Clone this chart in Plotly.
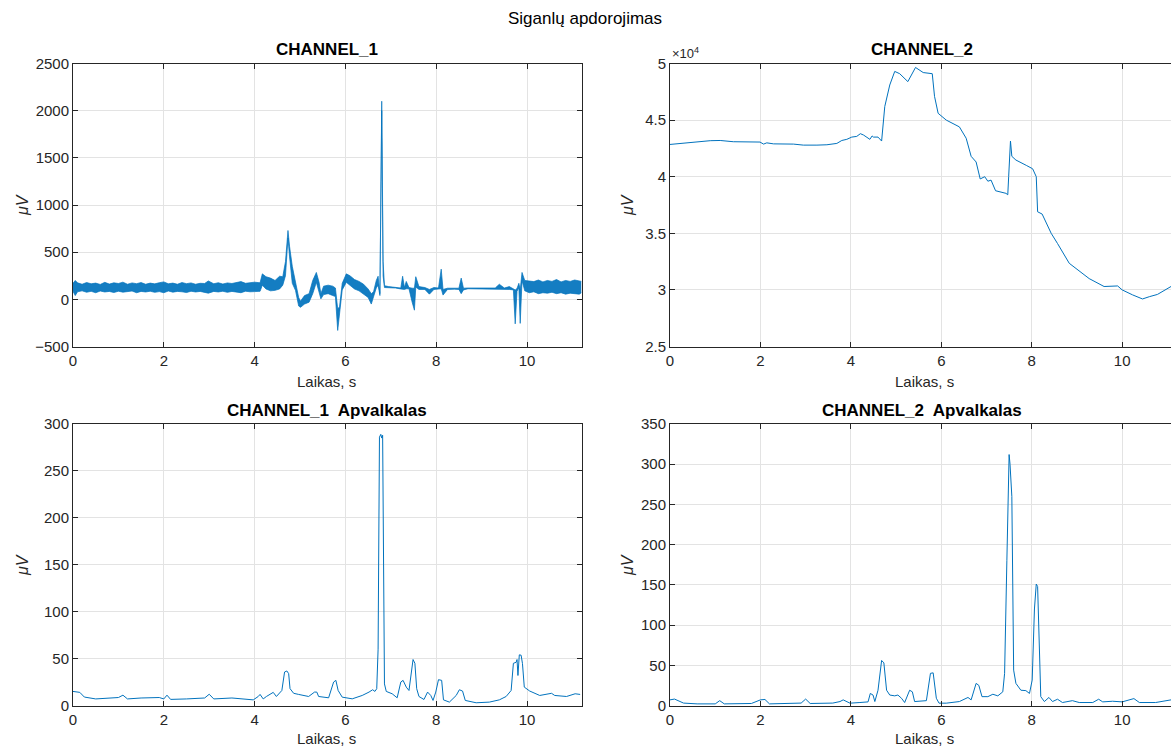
import plotly.graph_objects as go

# ---------------- data ----------------
# CHANNEL_1 raw signal: noisy band given as upper / lower envelope
ch1_t = [0.00, 0.05, 0.10, 0.20, 0.30, 0.40, 0.50, 0.60, 0.70, 0.80, 0.90, 1.00, 1.10, 1.20,
         1.30, 1.40, 1.50, 1.60, 1.70, 1.80, 1.90, 2.00, 2.10, 2.20, 2.30, 2.40, 2.50, 2.60,
         2.70, 2.80, 2.90, 2.98, 3.10, 3.20, 3.30, 3.40, 3.50, 3.60, 3.70, 3.80, 3.90, 4.00,
         4.12, 4.17, 4.25, 4.35, 4.45, 4.55, 4.62, 4.68, 4.735, 4.77, 4.83, 4.90, 4.97,
         5.01, 5.10, 5.20, 5.28, 5.36, 5.42, 5.46, 5.52, 5.62, 5.72, 5.78, 5.83, 5.87, 5.93,
         6.02, 6.10, 6.20, 6.30, 6.40, 6.50, 6.57, 6.62, 6.68, 6.72, 6.76, 6.80, 6.83, 6.86,
         6.95, 7.10, 7.22, 7.26, 7.30, 7.34, 7.40, 7.47, 7.52, 7.55, 7.62, 7.75, 7.85, 7.95,
         8.05, 8.11, 8.15, 8.25, 8.40, 8.50, 8.55, 8.60, 8.70, 8.90, 9.10, 9.30, 9.39, 9.50,
         9.61, 9.70, 9.74, 9.78, 9.82, 9.85, 9.89, 9.95, 10.05, 10.15, 10.25, 10.35, 10.45,
         10.55, 10.65, 10.75, 10.85, 10.95, 11.05, 11.15, 11.20]
ch1_hi = [170, 200, 175, 160, 178, 165, 172, 158, 180, 162, 175, 168, 182, 160,
          174, 166, 178, 160, 172, 164, 176, 185, 165, 172, 160, 178, 166, 174,
          160, 170, 168, 195, 165, 176, 162, 174, 168, 180, 188, 170, 176, 182,
          175, 270, 240, 225, 200, 245, 240, 400, 730, 560, 350, 170, 20,
          -20, 40, 60, 200, 285, 180, 60, 140, 150, 140, 120, -100, -80, 170,
          270, 250, 210, 190, 160, 110, 60, 80, 200, 245, 60, 2100, 400, 145,
          135, 130, 120, 245, 125, 190, 125, 118, 118, 240, 135, 125, 105, 125,
          120, 320, 105, 118, 120, 118, 225, 118, 120, 120, 120, 120, 160, 120,
          135, 115, 100, 115, 170, 100, 285, 200, 195, 188, 205, 185, 200,
          190, 210, 185, 200, 190, 205, 195, 190]
ch1_lo = [85, 40, 80, 90, 75, 85, 70, 88, 78, 84, 72, 86, 76, 82,
          88, 70, 84, 78, 86, 74, 82, 70, 88, 76, 84, 80, 72, 86,
          78, 84, 76, 65, 84, 78, 86, 74, 84, 78, 70, 86, 80, 82,
          85, 150, 110, 90, 95, 110, 150, 250, 650, 450, 170, 95, -70,
          -85, -50, -30, 60, 180, 60, 5, 50, 60, 40, 30, -330, -150, 100,
          180, 150, 110, 90, 50, 20, -50, 20, 120, 150, 40, 2000, 250, 125,
          125, 120, 110, 105, 105, 112, 112, -30, -115, 130, 105, 105, 55, 105,
          108, 112, 45, 105, 108, 105, 60, 100, 112, 112, 112, 112, 112, 112,
          105, 100, -260, 85, 125, -255, 200, 90, 70, 80, 60, 70, 65,
          75, 60, 70, 55, 65, 60, 55, 70]

# CHANNEL_2 raw signal
ch2_t = [0.00, 0.22, 0.52, 0.89, 1.11, 1.40, 1.99, 2.07, 2.14, 2.29, 2.73, 2.95, 3.25, 3.47,
         3.69, 3.80, 3.91, 4.02, 4.13, 4.21, 4.28, 4.42, 4.47, 4.50, 4.60, 4.68, 4.75, 4.86,
         4.97, 5.08, 5.26, 5.34, 5.43, 5.60, 5.80, 5.85, 5.93, 6.11, 6.33, 6.40, 6.55, 6.66,
         6.77, 6.86, 6.96, 7.03, 7.10, 7.20, 7.43, 7.47, 7.49, 7.53, 7.56, 7.65, 7.88, 8.02,
         8.10, 8.13, 8.23, 8.43, 8.57, 8.83, 9.27, 9.60, 9.90, 10.00, 10.23, 10.45, 10.60,
         10.78, 11.08]
ch2_v = [42850, 42940, 43060, 43180, 43200, 43090, 43060, 42880, 42990, 42900, 42880, 42790,
         42790, 42820, 42940, 43200, 43300, 43500, 43560, 43800, 43680, 43300, 43600, 43500,
         43500, 43150, 46200, 48100, 49300, 49100, 48400, 49050, 49650, 49200, 49100, 47100,
         45600, 45000, 44600, 44400, 43400, 41800, 41300, 39800, 40000, 39600, 39700, 38760,
         38530, 38400, 40000, 43150, 41800, 41470, 41000, 40700, 40000, 36900, 36700, 35000,
         34100, 32350, 31000, 30300, 30350, 30000, 29560, 29200, 29400, 29600, 30300]

# CHANNEL_1 envelope
env1_t = [0.00, 0.15, 0.25, 0.50, 1.00, 1.10, 1.20, 1.50, 1.90, 2.00, 2.07, 2.15, 2.50, 2.90,
          3.00, 3.10, 3.50, 3.86, 3.97, 4.08, 4.12, 4.19, 4.26, 4.41, 4.48, 4.60, 4.66, 4.71,
          4.75, 4.78, 4.86, 4.97, 5.19, 5.32, 5.37, 5.41, 5.63, 5.74, 5.79, 5.84, 5.93, 6.15,
          6.37, 6.52, 6.60, 6.65, 6.69, 6.72, 6.75, 6.78, 6.80, 6.82, 6.84, 6.86, 6.90, 7.03,
          7.14, 7.22, 7.27, 7.34, 7.40, 7.46, 7.49, 7.53, 7.57, 7.62, 7.73, 7.81, 7.88, 7.93,
          7.99, 8.05, 8.12, 8.16, 8.29, 8.44, 8.51, 8.58, 8.64, 8.88, 9.17, 9.39, 9.54, 9.65,
          9.70, 9.76, 9.78, 9.80, 9.83, 9.87, 9.90, 9.94, 10.06, 10.28, 10.54, 10.61, 10.87,
          11.06, 11.17]
env1_v = [15, 14, 9, 7, 8.5, 11, 7, 8, 8.5, 7, 11, 6.5, 7, 8,
          12, 7, 8, 7, 6, 9.6, 11.8, 7, 9.6, 14, 9.6, 16, 35.7, 36.8,
          34, 18, 13, 11.8, 9.6, 14.3, 14.3, 9.6, 8.2, 25, 26.8, 16, 8.9, 7.1,
          10.7, 14.3, 16.8, 15, 17.9, 60, 286, 289, 285, 288, 120, 23, 15, 12.5,
          8.2, 25, 26.8, 19.6, 16, 41, 49, 45, 17.9, 9.6, 6.4, 14.3, 10.7, 5.4,
          14.3, 27.5, 26.8, 6, 3.6, 10.7, 16.8, 15.4, 5.4, 2.9, 3.6, 6, 9.6, 16,
          45, 46, 49, 32, 54, 53.6, 44.6, 19.6, 15.4, 10.7, 13, 10.7, 9.6,
          12.5, 11.8]

# CHANNEL_2 envelope
env2_t = [0.00, 0.10, 0.30, 0.60, 1.00, 1.10, 1.20, 1.80, 2.00, 2.10, 2.20, 2.90, 3.00, 3.10,
          3.60, 3.76, 3.83, 3.90, 3.98, 4.20, 4.38, 4.43, 4.49, 4.53, 4.60, 4.68, 4.73, 4.79,
          4.86, 4.97, 5.04, 5.12, 5.19, 5.30, 5.36, 5.41, 5.67, 5.76, 5.82, 5.89, 5.95, 6.11,
          6.40, 6.59, 6.66, 6.77, 6.83, 6.90, 7.03, 7.14, 7.25, 7.36, 7.40, 7.45, 7.50, 7.52,
          7.56, 7.60, 7.65, 7.76, 7.87, 7.95, 8.01, 8.06, 8.10, 8.13, 8.16, 8.20, 8.28, 8.38,
          8.46, 8.57, 8.68, 8.90, 9.05, 9.35, 9.48, 9.57, 9.79, 10.00, 10.26, 10.38, 10.74,
          11.00, 11.08]
env2_v = [7, 8, 3, 2, 2, 6, 2, 2.5, 7, 7.5, 2, 3, 8, 2.5,
          3, 4.9, 7, 5, 2.9, 3.7, 4.5, 15, 13, 4.9, 19, 56, 53, 19,
          13, 12, 13, 9, 3.7, 19, 17, 4.9, 6, 40, 40.6, 9, 2.9, 2.9,
          4.9, 10, 7, 27.5, 25, 11, 11, 14, 12, 17, 40, 180, 312, 300,
          260, 44, 27.5, 19, 18.5, 15, 31.6, 120, 151, 148, 100, 11, 4.9, 10,
          4.9, 7.8, 3.7, 6, 3.7, 3.7, 7.8, 4.5, 5.3, 4.5, 8.6, 3.7, 3.7,
          6, 7]

x_ticks = [0, 2, 4, 6, 8, 10]
ch1_yticks = [-500, 0, 500, 1000, 1500, 2000, 2500]
ch2_yticks = [25000, 30000, 35000, 40000, 45000, 50000]
ch2_yticktext = ["2.5", "3", "3.5", "4", "4.5", "5"]
env1_yticks = [0, 50, 100, 150, 200, 250, 300]
env2_yticks = [0, 50, 100, 150, 200, 250, 300, 350]

titles = ["CHANNEL_1", "CHANNEL_2", "CHANNEL_1  Apvalkalas", "CHANNEL_2  Apvalkalas"]
suptitle = "Siganlų apdorojimas"
xlabel = "Laikas, s"
ylabel = "μV"

# ---------------- figure ----------------
W, H = 1171, 747
BLUE = "#0072BD"
AX = "#262626"
GRID = "#e3e3e3"
FONT = "Liberation Sans, Arial, Helvetica, sans-serif"


def px(xp):
    return xp / W


def py(yp):
    return 1 - yp / H


LEFT_DOM = [px(73), px(581.5)]
RIGHT_DOM = [px(670), 1.0]
TOP_DOM = [py(346.5), py(63.5)]
BOT_DOM = [py(705.5), py(424)]

fig = go.Figure()

# CHANNEL_1 band
fig.add_trace(go.Scatter(x=ch1_t, y=ch1_lo, mode="lines", line=dict(color=BLUE, width=0.7),
                         xaxis="x", yaxis="y", showlegend=False))
fig.add_trace(go.Scatter(x=ch1_t, y=ch1_hi, mode="lines", line=dict(color=BLUE, width=0.7),
                         fill="tonexty", fillcolor="rgba(0,114,189,0.92)",
                         xaxis="x", yaxis="y", showlegend=False))
# CHANNEL_2
fig.add_trace(go.Scatter(x=ch2_t, y=ch2_v, mode="lines", line=dict(color=BLUE, width=1),
                         xaxis="x2", yaxis="y2", showlegend=False))
# envelopes
fig.add_trace(go.Scatter(x=env1_t, y=env1_v, mode="lines", line=dict(color=BLUE, width=1),
                         xaxis="x3", yaxis="y3", showlegend=False))
fig.add_trace(go.Scatter(x=env2_t, y=env2_v, mode="lines", line=dict(color=BLUE, width=1),
                         xaxis="x4", yaxis="y4", showlegend=False))

tickfont = dict(family=FONT, size=15, color=AX)


def xaxis(dom, anchor, rng, mirror):
    return dict(domain=dom, anchor=anchor, range=rng, tickvals=x_ticks,
                ticks="inside", ticklen=5, tickcolor=AX, showline=True, linecolor=AX,
                linewidth=1, mirror=mirror, showgrid=True, gridcolor=GRID, gridwidth=1,
                zeroline=False, tickfont=tickfont, fixedrange=True, automargin=False)


def yaxis(dom, anchor, rng, tv, tt=None, mirror="ticks"):
    d = dict(domain=dom, anchor=anchor, range=rng, tickvals=tv,
             ticks="inside", ticklen=5, tickcolor=AX, showline=True, linecolor=AX,
             linewidth=1, mirror=mirror, showgrid=True, gridcolor=GRID, gridwidth=1,
             zeroline=False, tickfont=tickfont, fixedrange=True, automargin=False)
    if tt is not None:
        d["ticktext"] = tt
    return d


fig.update_layout(
    width=W, height=H,
    margin=dict(l=0, r=0, t=0, b=0, autoexpand=False),
    paper_bgcolor="white", plot_bgcolor="white",
    font=dict(family=FONT, color=AX),
    xaxis=xaxis(LEFT_DOM, "y", [0, 11.2], "ticks"),
    yaxis=yaxis(TOP_DOM, "x", [-500, 2500], ch1_yticks),
    xaxis2=xaxis(RIGHT_DOM, "y2", [0, 11.08], "ticks"),
    yaxis2=yaxis(TOP_DOM, "x2", [25000, 50000], ch2_yticks, ch2_yticktext, mirror=False),
    xaxis3=xaxis(LEFT_DOM, "y3", [0, 11.2], "ticks"),
    yaxis3=yaxis(BOT_DOM, "x3", [0, 300], env1_yticks),
    xaxis4=xaxis(RIGHT_DOM, "y4", [0, 11.08], "ticks"),
    yaxis4=yaxis(BOT_DOM, "x4", [0, 350], env2_yticks, mirror=False),
)

ann = []
# super title
ann.append(dict(text=suptitle, x=px(585), y=py(19), xref="paper", yref="paper",
                showarrow=False, font=dict(family=FONT, size=17, color="#000000"),
                xanchor="center", yanchor="middle"))
# subplot titles
title_pos = [(327, 50), (922, 50), (327, 411), (922, 411)]
for txt, (xp, yp) in zip(titles, title_pos):
    ann.append(dict(text="<b>" + txt + "</b>", x=px(xp), y=py(yp), xref="paper", yref="paper",
                    showarrow=False, font=dict(family=FONT, size=17, color="#000000"),
                    xanchor="center", yanchor="middle"))
# x labels
for xp, yp in [(326, 381), (924, 381), (326, 738), (924, 738)]:
    ann.append(dict(text=xlabel, x=px(xp), y=py(yp), xref="paper", yref="paper",
                    showarrow=False, font=dict(family=FONT, size=15, color=AX),
                    xanchor="center", yanchor="middle"))
# y labels
for xp, yp in [(22, 205), (627, 205), (22, 565), (627, 565)]:
    ann.append(dict(text="<i>" + ylabel + "</i>", x=px(xp), y=py(yp), xref="paper", yref="paper",
                    showarrow=False, textangle=-90, font=dict(family=FONT, size=16, color=AX),
                    xanchor="center", yanchor="middle"))
# exponent label
ann.append(dict(text="×10<sup>4</sup>", x=px(670), y=py(53), xref="paper", yref="paper",
                showarrow=False, font=dict(family=FONT, size=13, color=AX),
                xanchor="left", yanchor="middle"))
fig.update_layout(annotations=ann)

fig.write_html("out.html", include_plotlyjs=True, config={"displayModeBar": False})
